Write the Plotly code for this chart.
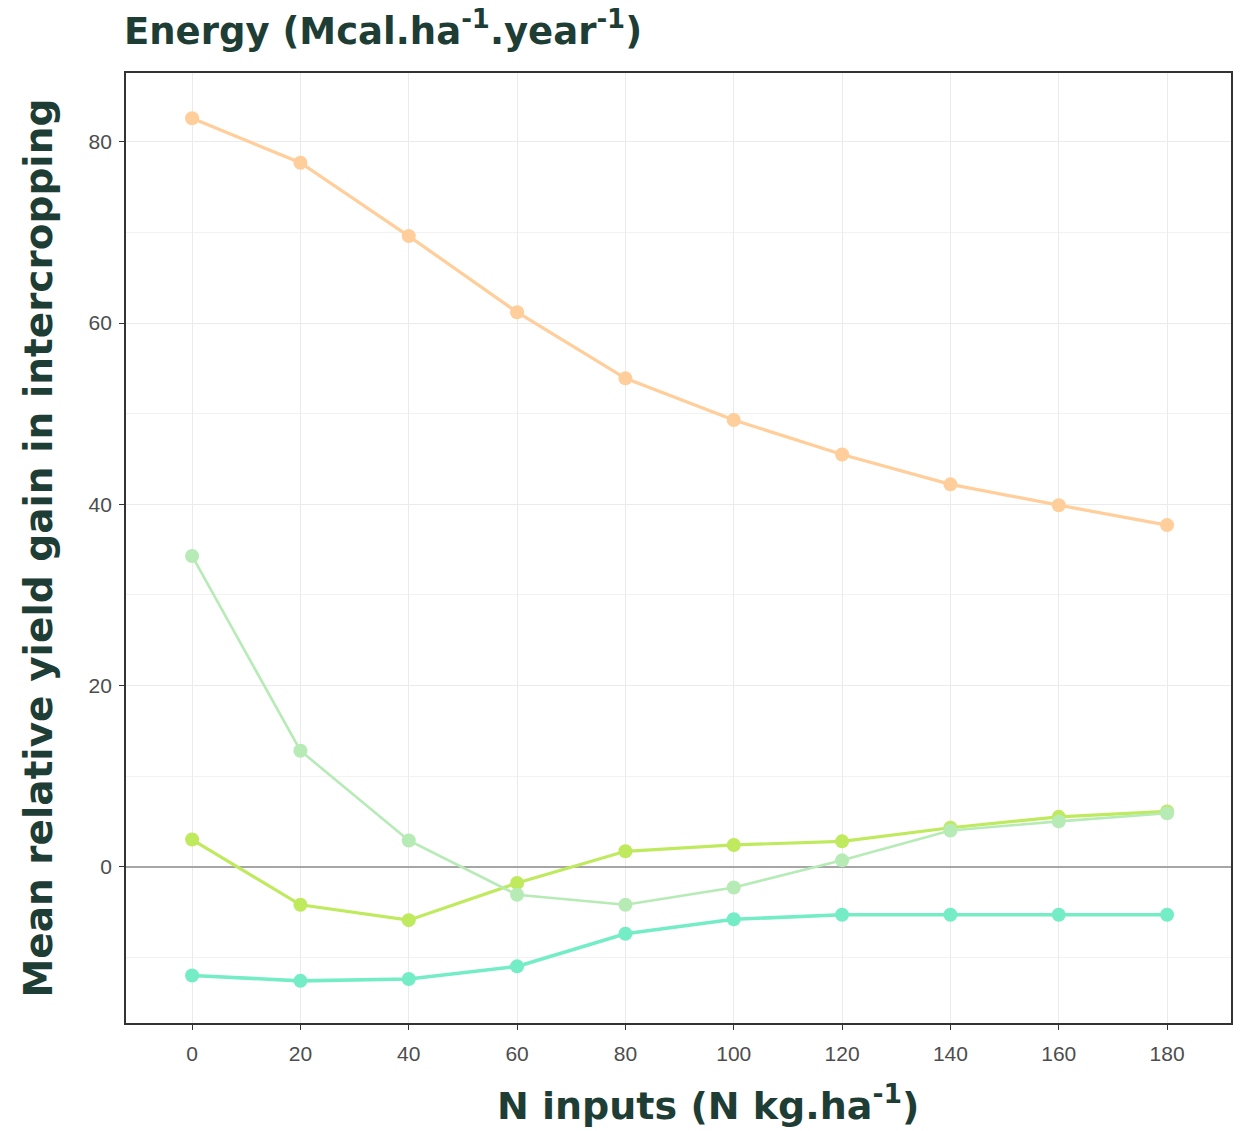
import plotly.graph_objects as go

# N input levels (kg N per ha)
n_inputs = [0, 20, 40, 60, 80, 100, 120, 140, 160, 180]

# Mean relative yield gain in intercropping, per series
gain_orange = [82.6, 77.7, 69.6, 61.2, 53.9, 49.3, 45.5, 42.2, 39.9, 37.7]
gain_teal = [-12.0, -12.6, -12.4, -11.0, -7.4, -5.8, -5.3, -5.3, -5.3, -5.3]
gain_lime = [3.0, -4.2, -5.9, -1.8, 1.7, 2.4, 2.8, 4.3, 5.5, 6.1]
gain_mint = [34.3, 12.8, 2.9, -3.1, -4.2, -2.3, 0.7, 4.0, 5.0, 5.9]

x_ticks = [0, 20, 40, 60, 80, 100, 120, 140, 160, 180]
y_ticks = [0, 20, 40, 60, 80]

series = [
    (gain_orange, "#FFCE9A", 3.2),
    (gain_teal, "#74EDC6", 3.6),
    (gain_lime, "#BFEA5E", 3.2),
    (gain_mint, "#B6EBB6", 2.6),
]

fig = go.Figure()
for values, color, width in series:
    fig.add_trace(go.Scatter(
        x=n_inputs, y=values, mode="lines+markers",
        line=dict(color=color, width=width),
        marker=dict(color=color, size=14),
        showlegend=False, hoverinfo="skip",
    ))

title_color = "#1D3D35"


def label_font(size):
    return dict(family="DejaVu Sans, sans-serif", size=size, color=title_color)


tick_font = dict(family="Liberation Sans, Arial, sans-serif", size=21, color="#4D4D4D")

fig.update_layout(
    width=1241, height=1131,
    margin=dict(l=126, r=8, t=73, b=108),
    paper_bgcolor="white", plot_bgcolor="white",
    xaxis=dict(
        range=[-12.2, 191.8], tickvals=x_ticks,
        ticktext=[str(v) for v in x_ticks],
        showgrid=True, gridcolor="#EBEBEB", gridwidth=1.3,
        zeroline=False,
        showline=True, linecolor="#333333", linewidth=1.8, mirror=True,
        ticks="outside", ticklen=5, tickwidth=1.3, tickcolor="#333333",
        ticklabelstandoff=6, tickfont=tick_font,
    ),
    yaxis=dict(
        range=[-17.25, 87.6], tickvals=y_ticks,
        showgrid=True, gridcolor="#EBEBEB", gridwidth=1.3,
        minor=dict(dtick=10, tick0=0, showgrid=True, gridcolor="#F2F2F2", gridwidth=1),
        zeroline=True, zerolinecolor="#A6A6A6", zerolinewidth=1.6,
        showline=True, linecolor="#333333", linewidth=1.8, mirror=True,
        ticks="outside", ticklen=5, tickwidth=1.3, tickcolor="#333333",
        ticklabelstandoff=3, tickfont=tick_font,
    ),
    annotations=[
        dict(text="<b>Energy (Mcal.ha<sup>-1</sup>.year<sup>-1</sup>)</b>",
             xref="paper", yref="paper", x=-0.0035, y=1.047,
             xanchor="left", yanchor="middle", showarrow=False, font=label_font(37)),
        dict(text="<b>N inputs (N kg.ha<sup>-1</sup>)</b>",
             xref="paper", yref="paper", x=0.527, y=-0.084,
             xanchor="center", yanchor="middle", showarrow=False, font=label_font(38)),
        dict(text="<b>Mean relative yield gain in intercropping</b>",
             xref="paper", yref="paper", x=-0.080, y=0.5, textangle=-90,
             xanchor="center", yanchor="middle", showarrow=False, font=label_font(39)),
    ],
)

fig.write_html("out.html")
